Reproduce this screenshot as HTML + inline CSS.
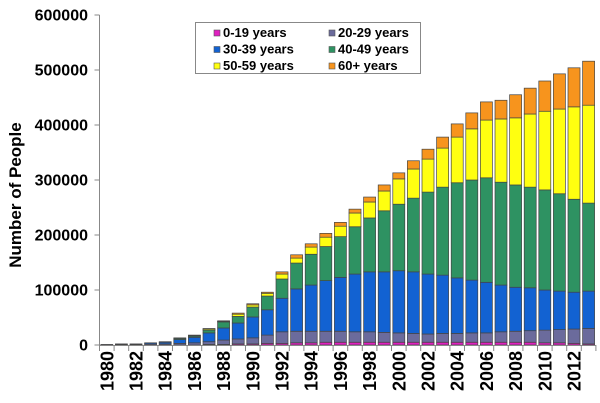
<!DOCTYPE html>
<html><head><meta charset="utf-8"><style>
html,body{margin:0;padding:0;background:#fff;}
svg{display:block;font-family:"Liberation Sans",Arial,sans-serif;font-weight:bold;}
</style></head><body>
<svg id="chart" width="600" height="403" viewBox="0 0 600 403" xmlns="http://www.w3.org/2000/svg">
<g id="bars"></g>
<g id="axes"></g>
<text transform="translate(21,195) rotate(-90)" text-anchor="middle" font-size="17">Number of People</text>
<g>
<rect x="195.5" y="22.5" width="225" height="51" fill="#fff" stroke="#888" stroke-width="1"/>
<g id="legend-items"></g>
</g>
</svg>
<script>
const years=[1980,1981,1982,1983,1984,1985,1986,1987,1988,1989,1990,1991,1992,1993,1994,1995,1996,1997,1998,1999,2000,2001,2002,2003,2004,2005,2006,2007,2008,2009,2010,2011,2012,2013];
const seriesNames=["0-19 years","20-29 years","30-39 years","40-49 years","50-59 years","60+ years"];
const age0_19=[0,0,0,0,0,0,0,1000,1000,2000,2000,3000,3000,4000,4000,5000,5000,5000,5000,5000,5000,5000,5000,5000,5000,5000,5000,5000,5000,5000,4000,4000,3000,2000];
const age20_29=[1000,1000,1000,2000,2000,3000,4000,5000,8000,9000,11000,15000,21000,21000,21000,20000,20000,19000,19000,18000,17000,16000,15000,16000,16000,17000,17000,19000,20000,21000,23000,24000,26000,28000];
const age30_39=[0,1000,1000,2000,3000,7000,10000,16000,22000,29000,38000,46000,61000,77000,84000,92000,98000,105000,109000,110000,113000,112000,109000,106000,101000,96000,92000,85000,80000,78000,73000,70000,67000,68000];
const age40_49=[0,0,0,0,1000,2000,2000,5000,11000,12000,18000,25000,35000,47000,56000,62000,74000,86000,98000,111000,121000,134000,149000,160000,173000,182000,190000,187000,186000,183000,182000,177000,169000,160000];
const age50_59=[0,0,0,0,0,0,1000,2000,1000,4000,4000,5000,9000,9000,13000,17000,19000,25000,29000,36000,46000,53000,60000,71000,83000,93000,105000,115000,122000,133000,143000,154000,168000,178000];
const age60p=[0,0,0,0,0,1000,1000,1000,1000,2000,2000,2000,4000,6000,6000,7000,7000,7000,9000,11000,11000,15000,18000,20000,24000,29000,33000,34000,42000,47000,55000,64000,71000,80000];
const yTicks=[0,100000,200000,300000,400000,500000,600000];
const xLabelYears=[1980,1982,1984,1986,1988,1990,1992,1994,1996,1998,2000,2002,2004,2006,2008,2010,2012];
const colors=["#e020c0","#6b6b9c","#1262d2","#2e9262","#ffff10","#f7941d"];
const series=[age0_19,age20_29,age30_39,age40_49,age50_59,age60p];

const NS="http://www.w3.org/2000/svg";
const X0=99.5,SLOT=14.6,Y0=345,PX=55/100000;
const yScale=v=>Y0-v*PX;
const xScale=i=>X0+i*SLOT;
function mk(t,a,p){const e=document.createElementNS(NS,t);for(const k in a)e.setAttribute(k,a[k]);p.appendChild(e);return e;}
const bars=document.getElementById('bars'),axes=document.getElementById('axes');
years.forEach((yr,i)=>{
  let cum=0;
  series.forEach((s,si)=>{
    const v=s[i];if(v<=0)return;
    const y1=yScale(cum),y2=yScale(cum+v);cum+=v;
    const r=mk('rect',{x:xScale(i)+1.3,y:y2,width:SLOT-2.6,height:y1-y2,fill:colors[si],stroke:'#444','stroke-width':0.7},bars);
    
    
  });
});
mk('line',{x1:X0,y1:15,x2:X0,y2:Y0,stroke:'#888','stroke-width':1},axes);
mk('line',{x1:X0,y1:Y0+0.5,x2:xScale(years.length),y2:Y0+0.5,stroke:'#888','stroke-width':1},axes);
yTicks.forEach(v=>{
  const y=yScale(v);
  mk('line',{x1:X0-5,y1:y,x2:X0,y2:y,stroke:'#888'},axes);
  const t=mk('text',{x:88,y:y+5.5,'text-anchor':'end','font-size':16},axes);
  t.textContent=v;
  
  
});
years.forEach((yr,i)=>{
  mk('line',{x1:xScale(i),y1:Y0,x2:xScale(i),y2:Y0+6,stroke:'#888'},axes);
});
mk('line',{x1:xScale(years.length),y1:Y0,x2:xScale(years.length),y2:Y0+6,stroke:'#888'},axes);
xLabelYears.forEach(yr=>{
  const i=years.indexOf(yr);const cx=xScale(i)+SLOT/2+6.5;
  const t=mk('text',{transform:`translate(${cx},351) rotate(-90)`,'text-anchor':'end','font-size':18},axes);
  t.textContent=yr;
  
  
});
const li=document.getElementById('legend-items');
seriesNames.forEach((n,k)=>{
  const col=k%2,row=Math.floor(k/2);
  const x=214+col*115,y=31+row*16.5;
  const g=mk('g',{},li);
  
  
  mk('rect',{x:x,y:y-1,width:6,height:6,fill:colors[k],stroke:'#555','stroke-width':0.6},g);
  const t=mk('text',{x:x+9,y:y+6,'font-size':13},g);t.textContent=n;
});
</script>
</body></html>
